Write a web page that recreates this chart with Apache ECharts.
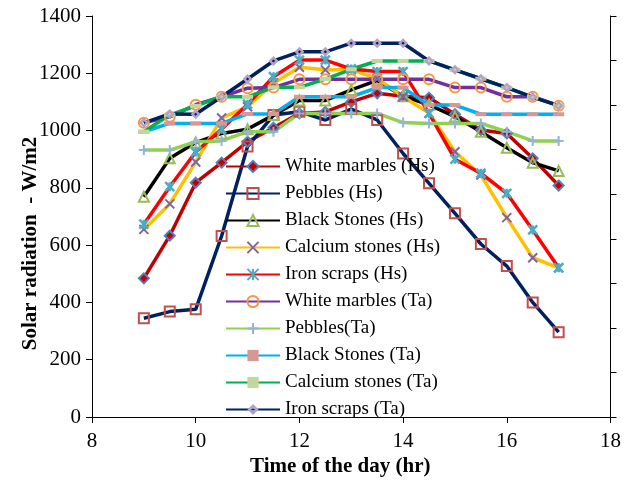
<!DOCTYPE html>
<html>
<head>
<meta charset="utf-8">
<script src="https://cdn.jsdelivr.net/npm/echarts@6/dist/echarts.min.js"></script>
<style>
  html, body { margin: 0; padding: 0; background: #fff; }
  #chart { width: 624px; height: 484px; }
</style>
</head>
<body>
<div id="chart"></div>
<script>
// time of the day (hr)
const hours = [9, 9.5, 10, 10.5, 11, 11.5, 12, 12.5, 13, 13.5, 14, 14.5, 15, 15.5, 16, 16.5, 17]

// Hs series
const whiteMarblesHs = [484, 633, 818, 888, 961, 1010, 1060, 1065, 1100, 1130, 1120, 1115, 1057, 1002, 990, 903, 808]
const pebblesHs = [345, 368, 376, 632, 944, 1054, 1066, 1037, 1075, 1037, 920, 816, 711, 604, 527, 400, 296]
const blackStonesHs = [769, 903, 958, 990, 1005, 1054, 1105, 1105, 1142, 1175, 1120, 1090, 1049, 996, 940, 888, 859]
const calciumStonesHs = [655, 744, 890, 1044, 1083, 1165, 1221, 1212, 1212, 1182, 1118, 1061, 926, 845, 696, 556, 521]
const ironScrapsHs = [673, 804, 925, 1005, 1092, 1188, 1246, 1246, 1215, 1206, 1206, 1060, 900, 851, 781, 653, 521]

// Ta series
const whiteMarblesTa = [1027, 1048, 1090, 1118, 1148, 1150, 1179, 1179, 1179, 1179, 1179, 1179, 1150, 1150, 1118, 1118, 1087]
const pebblesTa = [932, 932, 961, 964, 996, 996, 1060, 1060, 1060, 1060, 1028, 1025, 1025, 1025, 996, 964, 964]
const blackStonesTa = [996, 1025, 1025, 1025, 1058, 1058, 1118, 1118, 1118, 1150, 1150, 1089, 1089, 1057, 1057, 1057, 1057]
const calciumStonesTa = [996, 1055, 1086, 1118, 1118, 1151, 1151, 1180, 1214, 1243, 1243, 1243, 1212, 1181, 1150, 1117, 1087]
const ironScrapsTa = [1027, 1058, 1057, 1118, 1180, 1243, 1275, 1275, 1305, 1305, 1305, 1243, 1212, 1181, 1150, 1117, 1087]

const xTicks = { min: 8, max: 18, interval: 2 }
const yTicks = { min: 0, max: 1400, interval: 200 }

const FONT = 'Liberation Serif'

// marker shapes
const X_MARK = 'path://M0,0L10,10M10,0L0,10'
const STAR_MARK = 'path://M0,0L10,10M10,0L0,10M5,0L5,10'
const PLUS_MARK = 'path://M5,0L5,10M0,5L10,5'
const HOLE_DIAMOND = 'path://M5,0L10,5L5,10L0,5ZM5,3.4L3.4,5L5,6.6L6.6,5Z'

function pairs (values) {
  return hours.map((h, i) => [h, values[i]])
}

function lineSeries (name, values, lineColor, symbol, symbolSize, itemStyle) {
  return {
    name: name,
    type: 'line',
    data: pairs(values),
    symbol: symbol,
    symbolSize: symbolSize,
    showAllSymbol: true,
    lineStyle: { color: lineColor, width: 3.5 },
    itemStyle: itemStyle,
    emphasis: { disabled: true },
    z: 2
  }
}

const series = [
  lineSeries('White marbles (Hs)', whiteMarblesHs, '#C00000', 'diamond', 10,
    { color: '#C00000', borderColor: '#4F81BD', borderWidth: 2 }),
  lineSeries('Pebbles (Hs)', pebblesHs, '#002060', 'rect', 10,
    { color: 'rgba(0,0,0,0)', borderColor: '#C0504D', borderWidth: 2 }),
  lineSeries('Black Stones (Hs)', blackStonesHs, '#000000', 'triangle', 10,
    { color: 'rgba(0,0,0,0)', borderColor: '#9BBB59', borderWidth: 2 }),
  lineSeries('Calcium stones (Hs)', calciumStonesHs, '#FFC000', X_MARK, 9,
    { color: 'rgba(0,0,0,0)', borderColor: '#8064A2', borderWidth: 2 }),
  lineSeries('Iron scraps (Hs)', ironScrapsHs, '#FF0000', STAR_MARK, 9,
    { color: 'rgba(0,0,0,0)', borderColor: '#4BACC6', borderWidth: 2.5 }),
  lineSeries('White marbles (Ta)', whiteMarblesTa, '#7030A0', 'circle', 10,
    { color: 'rgba(0,0,0,0)', borderColor: '#F79646', borderWidth: 2 }),
  lineSeries('Pebbles(Ta)', pebblesTa, '#92D050', PLUS_MARK, 10,
    { color: 'rgba(0,0,0,0)', borderColor: '#95B3D7', borderWidth: 2 }),
  lineSeries('Black Stones (Ta)', blackStonesTa, '#00B0F0', 'rect', [11, 4],
    { color: '#D99694' }),
  lineSeries('Calcium stones (Ta)', calciumStonesTa, '#00B050', 'rect', [11, 4],
    { color: '#C3D69B' }),
  lineSeries('Iron scraps (Ta)', ironScrapsTa, '#002060', HOLE_DIAMOND, 10,
    { color: '#B3A2C7' })
]

const axisText = { color: '#000', fontFamily: FONT, fontSize: 21 }

const chart = echarts.init(document.getElementById('chart'), null, { renderer: 'canvas' })
chart.setOption({
  animation: false,
  backgroundColor: '#fff',
  grid: { left: 92, right: 10, top: 16, bottom: 67, containLabel: false },
  legend: {
    orient: 'vertical',
    left: 225,
    top: 157,
    itemWidth: 54,
    itemHeight: 14,
    itemGap: 8,
    padding: 0,
    textStyle: { color: '#000', fontFamily: FONT, fontSize: 19 },
    data: series.map(s => s.name)
  },
  xAxis: {
    type: 'value',
    min: xTicks.min,
    max: xTicks.max,
    interval: xTicks.interval,
    name: 'Time of the day (hr)',
    nameLocation: 'middle',
    nameGap: 39,
    nameMoveOverlap: false,
    nameTextStyle: { color: '#000', fontFamily: FONT, fontSize: 21, fontWeight: 'bold', padding: [0, 22, 0, 0] },
    axisLine: { show: true, onZero: false, lineStyle: { color: '#000', width: 1 } },
    axisTick: { show: true, inside: false, length: 6, lineStyle: { color: '#000' } },
    axisLabel: Object.assign({ margin: 14 }, axisText),
    splitLine: { show: false }
  },
  yAxis: [
    {
      type: 'value',
      position: 'left',
      min: yTicks.min,
      max: yTicks.max,
      interval: yTicks.interval,
      name: 'Solar radiation  - W/m2',
      nameLocation: 'middle',
      nameGap: 51,
      nameMoveOverlap: false,
      nameTextStyle: { color: '#000', fontFamily: FONT, fontSize: 21, fontWeight: 'bold', padding: [0, 54, 0, 0] },
      axisLine: { show: true, onZero: false, lineStyle: { color: '#000', width: 1 } },
      axisTick: { show: true, inside: false, length: 6, lineStyle: { color: '#000' } },
      axisLabel: Object.assign({ margin: 11, formatter: v => String(v) }, axisText),
      splitLine: { show: false }
    },
    {
      type: 'value',
      position: 'right',
      min: 0,
      max: 9,
      interval: 1,
      alignTicks: false,
      axisLine: { show: true, onZero: false, lineStyle: { color: '#000', width: 1 } },
      axisTick: { show: true, inside: false, length: 6, lineStyle: { color: '#000' } },
      axisLabel: { show: false },
      splitLine: { show: false }
    }
  ],
  series: series
})
</script>
</body>
</html>
